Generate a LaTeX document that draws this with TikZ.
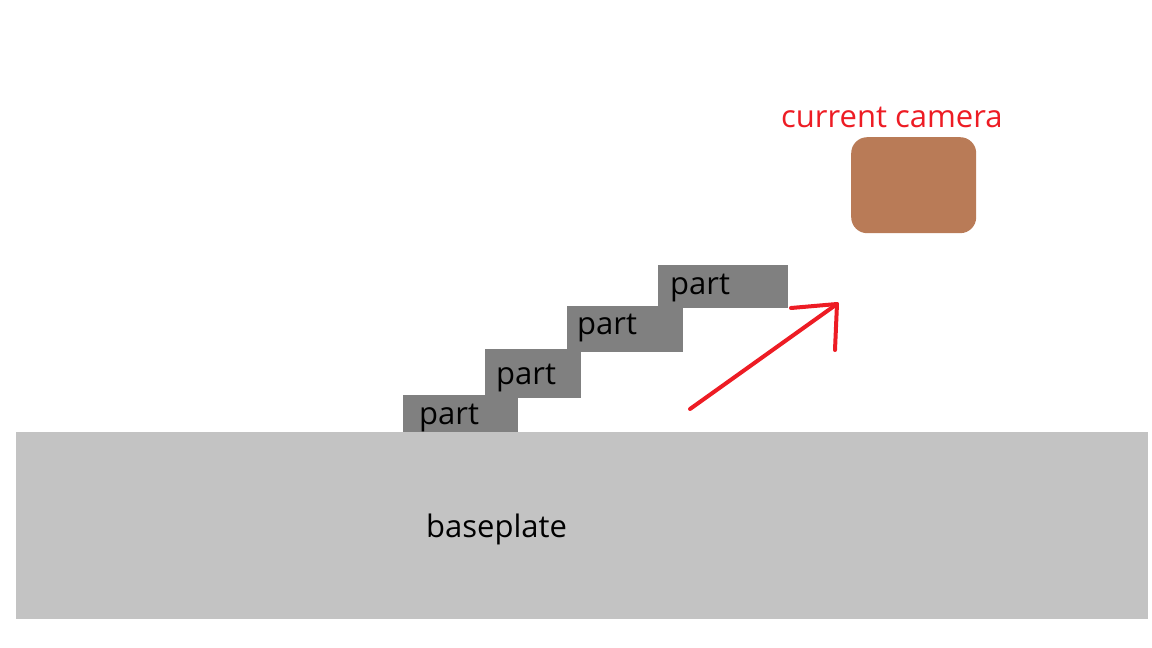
\documentclass[tikz,border=0pt]{standalone}
\usepackage{fontspec}
\setmainfont{Open Sans}
\usetikzlibrary{positioning}

\definecolor{partgray}{RGB}{128,128,128}
\definecolor{basegray}{RGB}{195,195,195}
\definecolor{camerabrown}{RGB}{185,123,87}
\definecolor{paintred}{RGB}{237,28,36}

\begin{document}
\begin{tikzpicture}[x=1pt,y=-1pt,
    partbox/.style={fill=partgray,inner sep=0pt,anchor=north west},
    platebox/.style={fill=basegray,inner sep=0pt,anchor=north west},
    camerabox/.style={fill=camerabrown,inner sep=0pt,anchor=north west,rounded corners=16pt},
    parttext/.style={inner sep=0pt,anchor=base west,font=\fontsize{31}{36}\selectfont},
    redline/.style={draw=paintred,line width=4pt,line cap=round,line join=round}]

            \useasboundingbox (0,0) rectangle (1152,648);

            % baseplate
            \node[platebox,minimum width=1132pt,minimum height=187pt] (base) at (16,432) {};
            \node[parttext] (basetext) at (426,537) {baseplate};

            % stacked parts
            \node[partbox,minimum width=115pt,minimum height=37pt] (part1) at (403,395) {};
            \node[partbox,minimum width=96pt,minimum height=49pt] (part2) at (485,349) {};
            \node[partbox,minimum width=116pt,minimum height=46pt] (part3) at (567,306) {};
            \node[partbox,minimum width=130pt,minimum height=43pt] (part4) at (658,265) {};

            \node[parttext] (text1) at (419,424) {part};
            \node[parttext] (text2) at (496,384) {part};
            \node[parttext] (text3) at (577,334) {part};
            \node[parttext] (text4) at (670,294) {part};

            % camera
            \node[camerabox,minimum width=125pt,minimum height=96pt] (cam) at (851,137) {};
            \node[parttext,text=paintred] (camtext) at (781,127) {current camera};

            % arrow
            \coordinate (arrowstart) at (690,409);
            \coordinate (arrowtip) at (837,304);
            \coordinate (barbleft) at (791,308);
            \coordinate (barbdown) at (835,350);

            \draw[redline] (arrowstart) -- (arrowtip);
            \draw[redline] (barbleft) -- (arrowtip) -- (barbdown);

\end{tikzpicture}
\end{document}
